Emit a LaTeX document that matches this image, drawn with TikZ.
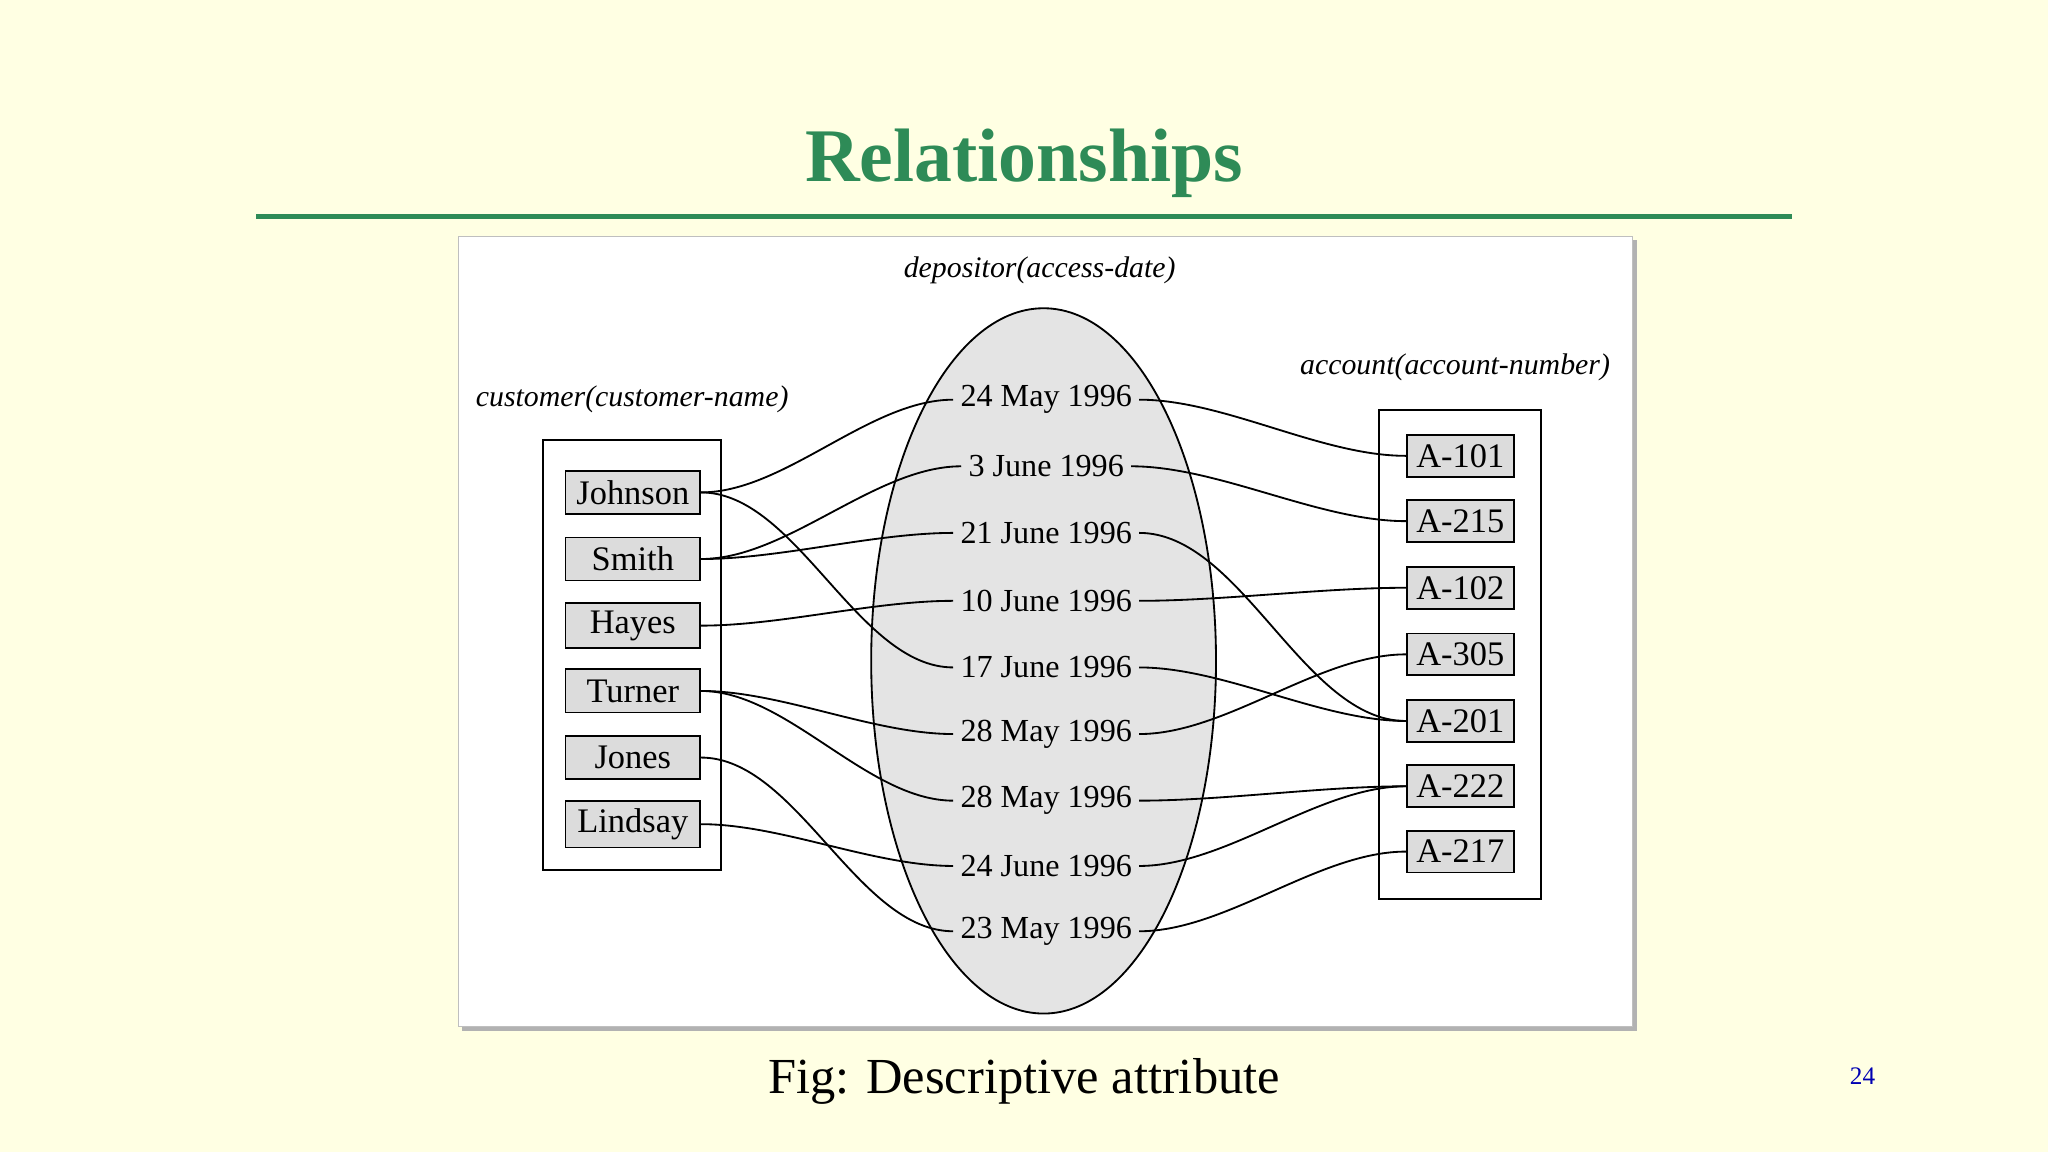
\documentclass[tikz,border=0pt]{standalone}
\usepackage{fontspec}
\setmainfont{Liberation Serif}
\definecolor{bg}{HTML}{FFFFE3}
\definecolor{ttl}{HTML}{2E8B57}
\definecolor{ell}{HTML}{E4E4E4}
\definecolor{boxf}{HTML}{DCDCDC}
\begin{document}
\begin{tikzpicture}[x=0.02cm,y=-0.02cm,
  lab/.style={font=\fontsize{13}{15}\selectfont\itshape},
  ent/.style={draw,thick,fill=boxf,minimum width=2.06cm,minimum height=0.66cm,font=\fontsize{15}{17}\selectfont},
  acc/.style={draw,thick,fill=boxf,minimum width=1.64cm,minimum height=0.64cm,font=\fontsize{15}{17}\selectfont},
  dt/.style={font=\fontsize{14}{16}\selectfont,inner sep=3pt},
  con/.style={thick,out=0,in=180,looseness=0.8}]
\fill[bg] (0,0) rectangle (1568,882);
\useasboundingbox (0,0) rectangle (1568,882);
\node[font=\fontsize{33}{38}\selectfont\bfseries,text=ttl] (title) at (784,125) {Relationships};
\draw[ttl,line width=2.2pt] (196,166) -- (1372,166);
\fill[gray!60] (354,184) rectangle (1253,789);
\draw[gray!50,fill=white] (351,181) rectangle (1250,786);
\draw[thick,fill=ell] (799,506) ellipse [x radius=132, y radius=270];
\node[lab] (dep) at (796,207) {depositor(access-date)};
\node[lab] (cus) at (484,306) {customer(customer-name)};
\node[lab] (acl) at (1114,281) {account(account-number)};
\draw[thick] (416,337) rectangle (552,666);
\draw[thick] (1056,314) rectangle (1180,688);
\foreach \n/\t/\y in {jo/Johnson/377,sm/Smith/428,ha/Hayes/479,tu/Turner/529,jn/Jones/580,li/Lindsay/631}
  \node[ent] (\n) at (484.5,\y) {\t};
\foreach \n/\t/\y in {a1/A-101/349,a2/A-215/399,a3/A-102/450,a4/A-305/501,a5/A-201/552,a6/A-222/602,a7/A-217/652}
  \node[acc] (\n) at (1118,\y) {\t};
\foreach \n/\t/\y in {d1/24 May 1996/306,d2/3 June 1996/357,d3/21 June 1996/408,d4/10 June 1996/460,d5/17 June 1996/511,d6/28 May 1996/562,d7/28 May 1996/613,d8/24 June 1996/663,d9/23 May 1996/713}
  \node[dt] (\n) at (801,\y) {\t};
\draw[con] (jo.east) to (d1.west);
\draw[con] (jo.east) to (d5.west);
\draw[con] (sm.east) to (d2.west);
\draw[con] (sm.east) to (d3.west);
\draw[con] (ha.east) to (d4.west);
\draw[con] (tu.east) to (d6.west);
\draw[con] (tu.east) to (d7.west);
\draw[con] (jn.east) to (d9.west);
\draw[con] (li.east) to (d8.west);
\draw[con] (d1.east) to (a1.west);
\draw[con] (d2.east) to (a2.west);
\draw[con] (d3.east) to (a5.west);
\draw[con] (d4.east) to (a3.west);
\draw[con] (d5.east) to (a5.west);
\draw[con] (d6.east) to (a4.west);
\draw[con] (d7.east) to (a6.west);
\draw[con] (d8.east) to (a6.west);
\draw[con] (d9.east) to (a7.west);
\node[font=\fontsize{22}{26}\selectfont] (cap) at (784,828) {Fig: Descriptive attribute};
\node[font=\fontsize{11}{13}\selectfont,text=blue!70!black] (pg) at (1426,824) {24};
\end{tikzpicture}
\end{document}
